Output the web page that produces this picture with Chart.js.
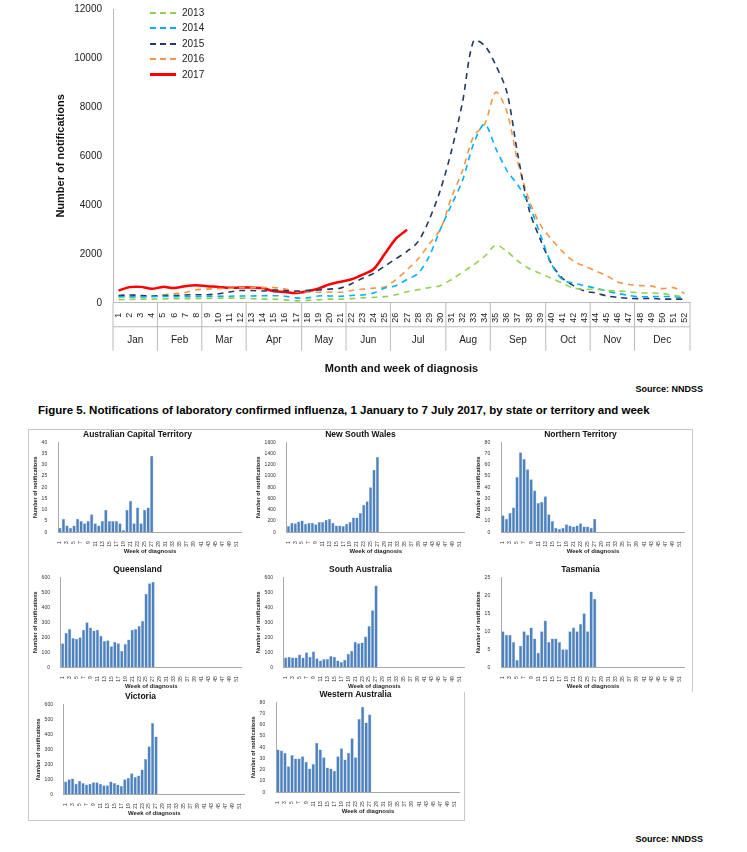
<!DOCTYPE html>
<html><head><meta charset="utf-8">
<script src="https://cdn.jsdelivr.net/npm/chart.js@4.4.0/dist/chart.umd.min.js"></script>
<style>
body{margin:0;background:#fff;font-family:"Liberation Sans",Arial,sans-serif;width:747px;height:852px;position:relative;overflow:hidden}
.abs{position:absolute}
canvas{display:block}
.leg{position:absolute;left:150px;font-size:10px;color:#222;display:flex;align-items:center}
.leg span{display:inline-block;width:26px;margin-right:6px;border-top:2px dashed}
.box{position:absolute;border:1px solid #c8c8c8}
</style></head><body>
<div class="abs" style="left:50px;top:0;width:650px;height:380px"><canvas id="main"></canvas></div>
<div class="leg" style="top:7px"><span style="border-color:#92D050"></span>2013</div>
<div class="leg" style="top:22px"><span style="border-color:#00B0F0"></span>2014</div>
<div class="leg" style="top:38px"><span style="border-color:#1F3864"></span>2015</div>
<div class="leg" style="top:53px"><span style="border-color:#F79646"></span>2016</div>
<div class="leg" style="top:69px"><span style="border-top:3px solid #FF0000"></span>2017</div>
<div class="abs" style="right:44px;top:384px;font-size:9px;font-weight:bold">Source: NNDSS</div>
<div class="abs" style="left:38px;top:404px;font-size:11.5px;font-weight:bold;white-space:nowrap">Figure 5. Notifications of laboratory confirmed influenza, 1 January to 7 July 2017, by state or territory and week</div>
<div class="box" style="left:28px;top:429px;width:663px;height:262px;border-bottom:none"></div>
<div class="box" style="left:28px;top:692px;width:435px;height:128px;border-top:none"></div>
<div class="abs" style="right:44px;top:834px;font-size:9px;font-weight:bold">Source: NNDSS</div>
<div id="smalls"></div>
<script>
const weeks = Array.from({length:52},(_, i)=>String(i+1));
const months = [["Jan",1,4],["Feb",5,8],["Mar",9,12],["Apr",13,17],["May",18,21],["Jun",22,25],["Jul",26,30],["Aug",31,34],["Sep",35,39],["Oct",40,43],["Nov",44,47],["Dec",48,52]];
const y2013 = [130,140,150,150,160,170,170,170,180,190,190,190,170,150,150,120,80,100,120,150,150,170,200,220,250,330,450,530,620,700,950,1250,1550,1900,2350,2100,1700,1400,1200,1000,800,600,550,550,500,480,450,400,400,380,300,250];
const y2014 = [250,240,240,250,260,250,250,250,260,270,270,280,280,290,290,270,200,200,280,280,270,300,320,400,600,700,950,1200,1900,3000,4000,5000,6500,7300,6300,5400,4800,4000,2800,1600,950,800,700,600,480,380,300,250,250,260,250,200];
const y2015 = [300,320,300,280,300,300,320,330,330,370,440,500,500,480,520,500,480,500,520,560,600,780,1000,1200,1500,1800,2100,2500,3400,4600,6200,8200,10700,10500,9700,8600,6000,3800,2600,1600,1000,700,480,400,280,220,180,170,180,150,150,150];
const y2016 = [250,260,250,260,320,370,420,530,560,580,590,620,620,620,620,570,450,440,430,440,430,500,560,600,650,950,1350,1800,2400,3000,4300,5400,6800,7300,8600,7800,5700,4200,3200,2600,2100,1700,1500,1300,1100,850,750,700,680,580,620,380];
const y2017 = [500,640,650,570,650,600,680,720,680,650,610,620,620,600,470,440,400,470,580,750,860,960,1150,1380,2000,2620,2980];

const monthPlugin = {
  id:'months',
  afterDraw(chart){
    const x = chart.scales.x, ctx = chart.ctx, top = x.top, bot = top + 48;
    const half = (x.getPixelForValue(1)-x.getPixelForValue(0))/2;
    ctx.save();
    ctx.strokeStyle = '#bbb'; ctx.lineWidth = 1;
    ctx.fillStyle = '#222'; ctx.font = '10px "Liberation Sans"'; ctx.textAlign = 'center';
    months.forEach(([m,a,b],i)=>{
      const l = x.getPixelForValue(a-1)-half, r = x.getPixelForValue(b-1)+half;
      ctx.beginPath(); ctx.moveTo(l, top); ctx.lineTo(l, bot); ctx.stroke();
      if(i===months.length-1){ctx.beginPath(); ctx.moveTo(r, top); ctx.lineTo(r, bot); ctx.stroke();}
      ctx.fillText(m,(l+r)/2, top+40);
    });
    ctx.beginPath(); ctx.moveTo(x.left, top+24); ctx.lineTo(x.right, top+24); ctx.stroke();
    ctx.restore();
  }
};
function ds(label,data,color,dash,w){return {label,data,borderColor:color,borderDash:dash,borderWidth:w,pointRadius:0,tension:0.3,fill:false};}
new Chart(document.getElementById('main'),{
  type:'line',
  data:{labels:weeks,datasets:[
    ds('2013',y2013,'#92D050',[6,5],1.6),
    ds('2014',y2014,'#00B0F0',[6,5],1.6),
    ds('2015',y2015,'#1F3864',[6,5],1.6),
    ds('2016',y2016,'#F79646',[6,5],1.6),
    ds('2017',y2017,'#FF0000',[],2.5)]},
  options:{responsive:true,maintainAspectRatio:false,animation:false,
    layout:{padding:{top:6,right:10}},
    plugins:{legend:{display:false},tooltip:{enabled:false}},
    scales:{
      y:{min:0,max:12000,ticks:{stepSize:2000,color:'#222',font:{size:10},callback:v=>String(v)},grid:{display:false},border:{color:'#bbb'},
        title:{display:true,text:'Number of notifications',font:{size:11,weight:'bold'},color:'#111'}},
      x:{offset:true,ticks:{minRotation:90,maxRotation:90,autoSkip:false,color:'#222',font:{size:9},padding:2},grid:{display:false},border:{color:'#bbb'},
        title:{display:true,text:'Month and week of diagnosis',font:{size:11,weight:'bold'},color:'#111',padding:{top:38}}}
    }},
  plugins:[monthPlugin]
});

// small charts: state, max, step, values weeks 1-27
const states = ["Australian Capital Territory","New South Wales","Northern Territory","Queensland","South Australia","Tasmania","Victoria","Western Australia"];
const maxes = [40,1600,80,600,600,25,600,80];
const steps = [5,200,10,100,100,5,100,10];
const act = [2,6,3,2,3,6,5,4,5,8,4,3,5,10,5,5,5,4,1,10,14,4,11,4,10,11,34];
const nsw = [110,170,160,190,210,150,170,170,140,180,180,220,240,170,120,120,110,150,180,260,260,340,490,550,800,1110,1340];
const nt = [15,12,17,22,49,71,65,56,47,37,26,27,32,16,10,4,3,4,7,6,5,6,8,5,5,4,12];
const qld = [160,230,255,195,190,200,250,300,265,245,250,210,175,180,140,170,160,110,155,185,250,255,275,310,490,560,570];
const sa = [65,70,65,65,85,65,100,70,105,60,45,55,55,75,70,45,35,50,90,110,170,160,165,205,275,380,545];
const tas = [10,9,9,7,2,6,10,9,11,8,4,10,13,7,8,8,7,5,5,10,11,10,12,15,10,21,19];
const vic = [85,100,105,70,90,75,65,70,80,80,70,60,60,85,75,65,55,100,110,140,115,125,165,235,320,475,385];
const wa = [38,37,35,23,33,30,30,32,27,21,25,44,38,31,22,21,19,32,39,29,35,48,31,65,76,62,69];
const values = [act,nsw,nt,qld,sa,tas,vic,wa];
const pos = [[32,430],[255,430],[475,430],[32,565],[255,565],[475,565],[35,692],[250,690]];
const holder = document.getElementById('smalls');
states.forEach((name,i)=>{
  const d = document.createElement('div');
  d.className='abs'; d.style.left=pos[i][0]+'px'; d.style.top=pos[i][1]+'px'; d.style.width='215px'; d.style.height='125px';
  const c = document.createElement('canvas'); d.appendChild(c); holder.appendChild(d);
  new Chart(c,{type:'bar',
    data:{labels:weeks,datasets:[{data:values[i],backgroundColor:'#4F81BD',borderColor:'#8DB3E2',borderWidth:0.5,categoryPercentage:1,barPercentage:0.95}]},
    options:{responsive:true,maintainAspectRatio:false,animation:false,
      layout:{padding:{right:4}},
      plugins:{legend:{display:false},tooltip:{enabled:false},
        title:{display:true,text:name,font:{size:8.5,weight:'bold'},color:'#111',padding:{top:0,bottom:2}}},
      scales:{
        y:{min:0,max:maxes[i],ticks:{stepSize:steps[i],color:'#333',font:{size:5},callback:v=>String(v)},grid:{display:false},border:{color:'#aaa'},
          title:{display:true,text:'Number of notifications',font:{size:5.5,weight:'bold'},color:'#222',padding:0}},
        x:{ticks:{minRotation:90,maxRotation:90,autoSkip:false,color:'#333',font:{size:5},padding:1,
            callback:(v,k)=>k%2===0?weeks[k]:''},grid:{display:false},border:{color:'#aaa'},
          title:{display:true,text:'Week of diagnosis',font:{size:6,weight:'bold'},color:'#222',padding:0}}
      }}});
});
</script>
</body></html>
